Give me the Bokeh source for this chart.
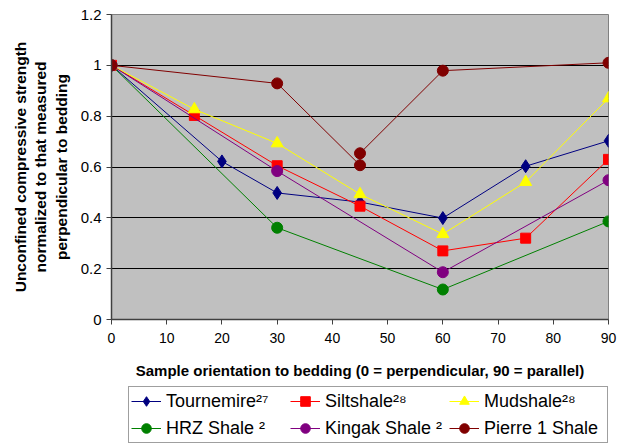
from bokeh.plotting import figure
from bokeh.models import Legend, LegendItem, FixedTicker
from bokeh.layouts import column
from bokeh.embed import file_html
from bokeh.resources import INLINE

# Data
tour_x = [0, 20, 30, 45, 60, 75, 90]
tour_y = [1.0, 0.622, 0.498, 0.462, 0.399, 0.603, 0.703]

silt_x = [0, 15, 30, 45, 60, 75, 90]
silt_y = [1.0, 0.803, 0.605, 0.446, 0.270, 0.320, 0.630]

mud_x = [0, 15, 30, 45, 60, 75, 90]
mud_y = [1.0, 0.827, 0.693, 0.493, 0.336, 0.541, 0.870]

hrz_x = [0, 30, 60, 90]
hrz_y = [1.0, 0.361, 0.118, 0.386]

king_x = [0, 30, 60, 90]
king_y = [1.0, 0.584, 0.186, 0.548]

pierre_x = [0, 30, 45, 45, 60, 90]
pierre_y = [1.0, 0.929, 0.607, 0.654, 0.979, 1.010]

x_ticks = [0, 10, 20, 30, 40, 50, 60, 70, 80, 90]
y_ticks = [0, 0.2, 0.4, 0.6, 0.8, 1.0, 1.2]

series = [
    ("Tournemire\u00b2\u2077", tour_x, tour_y, "#000080", "diamond", 13),
    ("Siltshale\u00b2\u2078", silt_x, silt_y, "#FF0000", "square", 10),
    ("Mudshale\u00b2\u2078", mud_x, mud_y, "#FFFF00", "triangle", 12),
    ("HRZ Shale \u00b2", hrz_x, hrz_y, "#008000", "circle", 11),
    ("Kingak Shale \u00b2", king_x, king_y, "#800080", "circle", 11),
    ("Pierre 1 Shale", pierre_x, pierre_y, "#800000", "circle", 11),
]

p = figure(width=644, height=385, output_backend="svg", toolbar_location=None,
           x_range=(0, 90), y_range=(0, 1.2),
           min_border_left=111, min_border_right=36, min_border_top=14,
           min_border_bottom=66)

p.background_fill_color = "#C0C0C0"
p.border_fill_color = "white"
p.outline_line_color = "#808080"
p.outline_line_width = 1

p.xgrid.grid_line_color = None
p.ygrid.grid_line_color = "#000000"
p.ygrid.grid_line_width = 1

p.xaxis.ticker = FixedTicker(ticks=x_ticks)
p.yaxis.ticker = FixedTicker(ticks=y_ticks)
p.yaxis.major_label_overrides = {0: "0", 0.2: "0.2", 0.4: "0.4", 0.6: "0.6",
                                 0.8: "0.8", 1.0: "1", 1.2: "1.2"}

for ax in (p.xaxis, p.yaxis):
    ax.axis_line_color = "#404040"
    ax.axis_line_width = 1.5
    ax.major_tick_line_color = "#404040"
    ax.major_tick_in = 0
    ax.major_tick_out = 5
    ax.minor_tick_line_color = None
    ax.major_label_text_font = "Liberation Sans"
    ax.major_label_text_color = "black"
    ax.axis_label_text_font = "Liberation Sans"
    ax.axis_label_text_font_style = "bold"
    ax.axis_label_text_color = "black"

p.xaxis.axis_label_text_font_size = "15px"
p.yaxis.axis_label_text_font_size = "15.5px"
p.xaxis.major_label_text_font_size = "14px"
p.yaxis.major_label_text_font_size = "15px"
p.xaxis.major_label_standoff = 8
p.yaxis.major_label_standoff = 5
p.xaxis.axis_label = "Sample orientation to bedding (0 = perpendicular, 90 = parallel)"
p.xaxis.axis_label_standoff = 16
p.yaxis.axis_label = ("Unconfined compressive strength\n"
                      "normalized to that measured\n"
                      "perpendicular to bedding")
p.yaxis.axis_label_standoff = 8

# legend strip underneath the chart
lg = figure(width=644, height=59, output_backend="svg", toolbar_location=None,
            x_range=(0, 90), y_range=(0, 1.2), x_axis_type=None, y_axis_type=None,
            min_border_left=0, min_border_right=0, min_border_top=0,
            min_border_bottom=0)
lg.outline_line_color = None
lg.background_fill_color = "white"
lg.xgrid.grid_line_color = None
lg.ygrid.grid_line_color = None

items = {}
for name, xs, ys, color, marker, size in series:
    p.line(xs, ys, line_color=color, line_width=1)
    p.scatter(xs, ys, marker=marker, size=size, fill_color=color,
              line_color=color)
    r1 = lg.line(xs, ys, line_color=color, line_width=1, visible=False)
    r2 = lg.scatter(xs, ys, marker=marker, size=size - 1, fill_color=color,
                    line_color=color, visible=False)
    items[name] = LegendItem(label=name, renderers=[r1, r2])

# column-major filling: arrange so rows read as in the reference
order = [0, 3, 1, 4, 2, 5]
legend_items = [items[series[i][0]] for i in order]

legend = Legend(items=legend_items, ncols=3, location=(17, 1),
                label_text_font="Liberation Sans", label_text_font_size="18px",
                label_text_color="black",
                glyph_width=30, glyph_height=24, label_standoff=5,
                label_height=24, label_width=121,
                spacing=3, padding=2, margin=0,
                border_line_color="#404040", border_line_width=1,
                background_fill_color="white", background_fill_alpha=1)
lg.add_layout(legend, "center")

layout = column(p, lg, spacing=0)
open("out.html", "w").write(file_html(layout, INLINE))
